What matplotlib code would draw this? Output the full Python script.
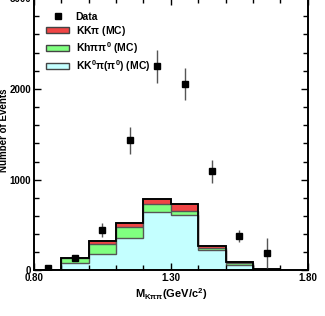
import numpy as np
import matplotlib
matplotlib.use('Agg')
import matplotlib.pyplot as plt
from matplotlib.patches import Patch
from matplotlib.lines import Line2D
from matplotlib.ticker import MultipleLocator

plt.rcParams['font.family'] = ['Liberation Sans', 'DejaVu Sans']
plt.rcParams['font.weight'] = 'bold'
plt.rcParams['axes.labelweight'] = 'bold'
plt.rcParams['mathtext.fontset'] = 'custom'
plt.rcParams['mathtext.rm'] = 'Liberation Sans:bold'
plt.rcParams['mathtext.it'] = 'Liberation Sans:bold'
plt.rcParams['mathtext.bf'] = 'Liberation Sans:bold'

# 빈 경계 (GeV/c^2)
bin_edges = [0.80, 0.90, 1.00, 1.10, 1.20, 1.30, 1.40, 1.50, 1.60, 1.70]
# MC 성분 (각 빈 이벤트 수)
kk0pi_mc = [5, 80, 182, 356, 643, 612, 230, 64, 8]
khpipi0_mc = [3, 55, 108, 121, 84, 40, 22, 22, 3]
kkpi_mc = [2, 5, 32, 48, 56, 79, 15, 11, 4]

# 데이터 포인트
data_x = [0.85, 0.95, 1.05, 1.15, 1.25, 1.35, 1.45, 1.55, 1.65]
data_y = [30, 140, 445, 1434, 2247, 2050, 1093, 379, 189]
data_err = [25, 35, 75, 146, 180, 175, 128, 70, 165]

fig = plt.figure(figsize=(3.25, 3.16), dpi=100)
ax = fig.add_axes([0.1046, 0.144, 0.8422, 0.8623])

c1 = np.array(kk0pi_mc)
c2 = c1 + np.array(khpipi0_mc)
c3 = c2 + np.array(kkpi_mc)

ax.stairs(c3, bin_edges, fill=True, color='#f04545')
ax.stairs(c3, bin_edges, color='#444444', lw=1.2)
ax.stairs(c2, bin_edges, fill=True, color='#80ff80')
ax.stairs(c2, bin_edges, color='#555555', lw=1.0)
ax.stairs(c1, bin_edges, fill=True, color='#c4ffff')
ax.stairs(c1, bin_edges, color='#555555', lw=1.0)
ax.stairs(c3, bin_edges, color='black', lw=1.3)

ax.errorbar(data_x, data_y, yerr=data_err, fmt='s', color='black',
            ms=4.8, ecolor='#555555', elinewidth=1.0, capsize=0, zorder=5)

ax.set_xlim(0.80, 1.80)
ax.set_ylim(0, 3000)
ax.set_xticks([0.80, 1.30, 1.80])
ax.set_xticklabels(['0.80', '1.30', '1.80'])
ax.xaxis.set_minor_locator(MultipleLocator(0.1))
ax.set_yticks([0, 1000, 2000, 3000])
ax.yaxis.set_minor_locator(MultipleLocator(200))
ax.tick_params(which='both', direction='in', top=True, right=True,
               labelsize=7, width=1.0, pad=2)
ax.tick_params(which='major', length=5)
ax.tick_params(which='minor', length=3.5)
for s in ax.spines.values():
    s.set_linewidth(1.4)

ax.set_xlabel(r'M$_{\mathrm{K}\pi\pi}$(GeV/c$^2$)', fontsize=8, labelpad=2)
ax.set_ylabel('Number of Events', fontsize=7)
ax.yaxis.set_label_coords(-0.092, 0.515)

handles = [
    Line2D([], [], marker='s', color='black', ls='none', ms=4.8),
    Patch(facecolor='#f04545', edgecolor='#444444', lw=1.0),
    Patch(facecolor='#80ff80', edgecolor='#444444', lw=1.0),
    Patch(facecolor='#c4ffff', edgecolor='#444444', lw=1.0),
]
labels = ['Data', r'KK$\pi$ (MC)', r'Kh$\pi\pi^0$ (MC)', r'KK$^0\pi(\pi^0)$ (MC)']
ax.legend(handles, labels, loc='upper left', bbox_to_anchor=(0.03, 0.965),
          frameon=False, fontsize=7.5, handlelength=2.2, handleheight=0.5,
          labelspacing=0.2, handletextpad=0.6, borderaxespad=0)

fig.savefig('out.png', dpi=100)
